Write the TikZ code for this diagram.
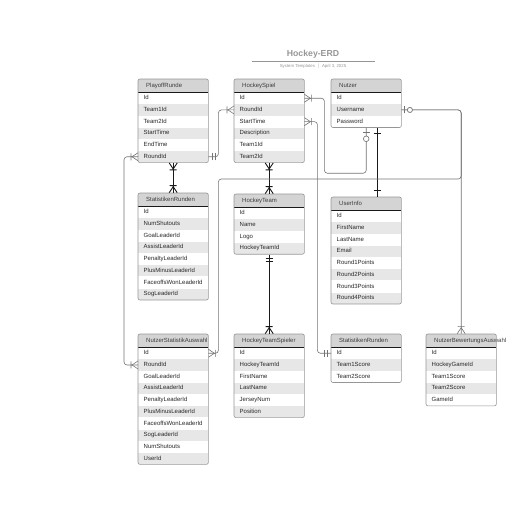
\documentclass[tikz,border=0pt]{standalone}
\usepackage{fontspec}
\setmainfont{Liberation Sans}
\usetikzlibrary{positioning,fit,decorations.markings}
\definecolor{erdink}{RGB}{40,40,40}
\definecolor{erdheadtext}{RGB}{60,60,60}
\definecolor{erdline}{RGB}{115,115,115}
\definecolor{erddark}{RGB}{25,25,25}
\definecolor{erdborder}{RGB}{150,150,150}
\definecolor{erdhead}{RGB}{212,212,212}
\definecolor{erdstripe}{RGB}{231,231,231}
\definecolor{erdtitle}{RGB}{150,150,150}
\newcommand{\erdfont}{\fontsize{6}{7}\selectfont}
\hyphenpenalty=10000
\exhyphenpenalty=10000

\begin{document}
\begin{tikzpicture}[
  x=1pt, y=-1pt,
  head/.style={rectangle, fill=erdhead, anchor=north west, minimum width=70pt, minimum height=13pt, text width=54pt, inner xsep=8pt, inner ysep=0pt, align=left, text height=4.4pt, text depth=1.3pt, text=erdheadtext, font=\erdfont,
    path picture={\draw[erddark, line width=1.2pt] (path picture bounding box.south west) -- (path picture bounding box.south east);}},
  rowa/.style={rectangle, fill=white, minimum width=70pt, minimum height=11.3pt, text width=59pt, inner xsep=5.5pt, inner ysep=0pt, align=left, text height=4.4pt, text depth=1.3pt, text=erdink, font=\erdfont},
  rowb/.style={rowa, fill=erdstripe},
  entity/.style={rectangle, draw=erdborder, line width=0.6pt, rounded corners=2pt, inner sep=0pt},
  rel/.style={draw=erdline, line width=0.6pt, rounded corners=3pt},
  strongrel/.style={draw=erddark, line width=0.9pt},
  many start/.style={postaction={decorate, decoration={markings, mark=at position 0.01pt with {\draw[sharp corners] (0,-4pt) -- (6pt,0) -- (0,4pt) (7pt,-3.5pt) -- (7pt,3.5pt);}}}},
  many end/.style={postaction={decorate, decoration={markings, mark=at position -0.01pt with {\draw[sharp corners] (0,-4pt) -- (-6pt,0) -- (0,4pt) (-7pt,-3.5pt) -- (-7pt,3.5pt);}}}},
  only start/.style={postaction={decorate, decoration={markings, mark=at position 0.01pt with {\draw[sharp corners] (3.5pt,-3.5pt) -- (3.5pt,3.5pt) (6.5pt,-3.5pt) -- (6.5pt,3.5pt);}}}},
  only end/.style={postaction={decorate, decoration={markings, mark=at position -0.01pt with {\draw[sharp corners] (-3.5pt,-3.5pt) -- (-3.5pt,3.5pt) (-6.5pt,-3.5pt) -- (-6.5pt,3.5pt);}}}},
  maybe start/.style={postaction={decorate, decoration={markings, mark=at position 0.01pt with {\draw[sharp corners] (3pt,-3.5pt) -- (3pt,3.5pt); \draw[fill=white] (8.5pt,0) circle (2.5pt);}}}},
  maybe end/.style={postaction={decorate, decoration={markings, mark=at position -0.01pt with {\draw[sharp corners] (-4pt,-3.5pt) -- (-4pt,3.5pt); \draw[fill=white] (-11pt,0) circle (2.8pt);}}}},
  one start/.style={postaction={decorate, decoration={markings, mark=at position 0.01pt with {\draw[sharp corners] (6pt,-3.5pt) -- (6pt,3.5pt);}}}},
  one end/.style={postaction={decorate, decoration={markings, mark=at position -0.01pt with {\draw[sharp corners] (-6pt,-3.5pt) -- (-6pt,3.5pt);}}}}
]
\useasboundingbox (0,0) rectangle (516,516);

% Title
\node[font=\bfseries\fontsize{8.7}{10}\selectfont, text=erdtitle] (title) at (313,54) {Hockey-ERD};
\coordinate (rule-l) at (252,61);
\coordinate (rule-r) at (375,61);
\draw[erdborder, line width=0.6pt] (rule-l) -- (rule-r);
\node[font=\fontsize{4.3}{5}\selectfont, text=erdtitle] (subtitle) at (313,66.5) {System Templates \ $|$ \ April 3, 2025};

% Top row
\node[head] (pr-h) at (138,79) {PlayoffRunde};
\node[rowa, below=0pt of pr-h] (pr-id) {Id};
\node[rowb, below=0pt of pr-id] (pr-team1id) {Team1Id};
\node[rowa, below=0pt of pr-team1id] (pr-team2id) {Team2Id};
\node[rowb, below=0pt of pr-team2id] (pr-starttime) {StartTime};
\node[rowa, below=0pt of pr-starttime] (pr-endtime) {EndTime};
\node[rowb, below=0pt of pr-endtime] (pr-roundid) {RoundId};
\node[entity, fit=(pr-h)(pr-roundid)] (pr) {};

\node[head] (hs-h) at (234,79) {HockeySpiel};
\node[rowa, below=0pt of hs-h] (hs-id) {Id};
\node[rowb, below=0pt of hs-id] (hs-roundid) {RoundId};
\node[rowa, below=0pt of hs-roundid] (hs-starttime) {StartTime};
\node[rowb, below=0pt of hs-starttime] (hs-description) {Description};
\node[rowa, below=0pt of hs-description] (hs-team1id) {Team1Id};
\node[rowb, below=0pt of hs-team1id] (hs-team2id) {Team2Id};
\node[entity, fit=(hs-h)(hs-team2id)] (hs) {};

\node[head] (nu-h) at (331,79) {Nutzer};
\node[rowa, below=0pt of nu-h] (nu-id) {Id};
\node[rowb, below=0pt of nu-id] (nu-username) {Username};
\node[rowa, below=0pt of nu-username] (nu-password) {Password};
\node[entity, fit=(nu-h)(nu-password)] (nu) {};

% Middle row
\node[head] (sr1-h) at (138,193) {StatistikenRunden};
\node[rowa, below=0pt of sr1-h] (sr1-id) {Id};
\node[rowb, below=0pt of sr1-id] (sr1-numshutouts) {NumShutouts};
\node[rowa, below=0pt of sr1-numshutouts] (sr1-goal) {GoalLeaderId};
\node[rowb, below=0pt of sr1-goal] (sr1-assist) {AssistLeaderId};
\node[rowa, below=0pt of sr1-assist] (sr1-penalty) {PenaltyLeaderId};
\node[rowb, below=0pt of sr1-penalty] (sr1-plusminus) {PlusMinusLeaderId};
\node[rowa, below=0pt of sr1-plusminus] (sr1-faceoffs) {FaceoffsWonLeaderId};
\node[rowb, below=0pt of sr1-faceoffs] (sr1-sog) {SogLeaderId};
\node[entity, fit=(sr1-h)(sr1-sog)] (sr1) {};

\node[head] (ht-h) at (234,194) {HockeyTeam};
\node[rowa, below=0pt of ht-h] (ht-id) {Id};
\node[rowb, below=0pt of ht-id] (ht-name) {Name};
\node[rowa, below=0pt of ht-name] (ht-logo) {Logo};
\node[rowb, below=0pt of ht-logo] (ht-teamid) {HockeyTeamId};
\node[entity, fit=(ht-h)(ht-teamid)] (ht) {};

\node[head] (ui-h) at (331,197) {UserInfo};
\node[rowa, below=0pt of ui-h] (ui-id) {Id};
\node[rowb, below=0pt of ui-id] (ui-firstname) {FirstName};
\node[rowa, below=0pt of ui-firstname] (ui-lastname) {LastName};
\node[rowb, below=0pt of ui-lastname] (ui-email) {Email};
\node[rowa, below=0pt of ui-email] (ui-r1) {Round1Points};
\node[rowb, below=0pt of ui-r1] (ui-r2) {Round2Points};
\node[rowa, below=0pt of ui-r2] (ui-r3) {Round3Points};
\node[rowb, below=0pt of ui-r3] (ui-r4) {Round4Points};
\node[entity, fit=(ui-h)(ui-r4)] (ui) {};

% Bottom row
\node[head] (nsa-h) at (138,334) {NutzerStatistikAuswahl};
\node[rowa, below=0pt of nsa-h] (nsa-id) {Id};
\node[rowb, below=0pt of nsa-id] (nsa-roundid) {RoundId};
\node[rowa, below=0pt of nsa-roundid] (nsa-goal) {GoalLeaderId};
\node[rowb, below=0pt of nsa-goal] (nsa-assist) {AssistLeaderId};
\node[rowa, below=0pt of nsa-assist] (nsa-penalty) {PenaltyLeaderId};
\node[rowb, below=0pt of nsa-penalty] (nsa-plusminus) {PlusMinusLeaderId};
\node[rowa, below=0pt of nsa-plusminus] (nsa-faceoffs) {FaceoffsWonLeaderId};
\node[rowb, below=0pt of nsa-faceoffs] (nsa-sog) {SogLeaderId};
\node[rowa, below=0pt of nsa-sog] (nsa-numshutouts) {NumShutouts};
\node[rowb, below=0pt of nsa-numshutouts] (nsa-userid) {UserId};
\node[entity, fit=(nsa-h)(nsa-userid)] (nsa) {};

\node[head] (hts-h) at (234,334) {HockeyTeamSpieler};
\node[rowa, below=0pt of hts-h] (hts-id) {Id};
\node[rowb, below=0pt of hts-id] (hts-teamid) {HockeyTeamId};
\node[rowa, below=0pt of hts-teamid] (hts-firstname) {FirstName};
\node[rowb, below=0pt of hts-firstname] (hts-lastname) {LastName};
\node[rowa, below=0pt of hts-lastname] (hts-jersey) {JerseyNum};
\node[rowb, below=0pt of hts-jersey] (hts-position) {Position};
\node[entity, fit=(hts-h)(hts-position)] (hts) {};

\node[head] (sr2-h) at (331,334) {StatistikenRunden};
\node[rowa, below=0pt of sr2-h] (sr2-id) {Id};
\node[rowb, below=0pt of sr2-id] (sr2-team1score) {Team1Score};
\node[rowa, below=0pt of sr2-team1score] (sr2-team2score) {Team2Score};
\node[entity, fit=(sr2-h)(sr2-team2score)] (sr2) {};

\node[head] (nba-h) at (426,334) {NutzerBewertungsAuswahl};
\node[rowa, below=0pt of nba-h] (nba-id) {Id};
\node[rowb, below=0pt of nba-id] (nba-gameid1) {HockeyGameId};
\node[rowa, below=0pt of nba-gameid1] (nba-team1score) {Team1Score};
\node[rowb, below=0pt of nba-team1score] (nba-team2score) {Team2Score};
\node[rowa, below=0pt of nba-team2score] (nba-gameid) {GameId};
\node[entity, fit=(nba-h)(nba-gameid)] (nba) {};

% Relations
\draw[strongrel, many start, many end] (pr.south) -- (sr1.north);
\draw[strongrel, many start, many end] (hs.south) -- (ht.north);
\draw[strongrel, only start, many end] (ht.south) -- (hts.north);
\draw[strongrel, one start, one end] ([xshift=11pt]nu.south) -- ([xshift=11pt]ui.north);

\draw[rel, only start, many end] (pr-roundid.east) -- ++(10,0) |- (hs-roundid.west);
\draw[rel, many start, many end] (pr-roundid.west) -- ++(-14,0) |- (nsa-roundid.west);
\draw[rel, many start, maybe end] (hs-id.east) -- ++(20,0) -- ++(0,75) -| (nu.south);
\draw[rel, many start, only end] (hs-starttime.east) -- ++(13,0) |- (sr2-id.west);
\draw[rel, maybe start, many end] (nu-username.east) -| (nba.north);
\draw[rel, maybe start, many end] (nu-username.east) -- (nu-username.east -| nba.north) -- ++(0,69) -| ([xshift=10pt]nsa-id.east) -- (nsa-id.east);

\end{tikzpicture}
\end{document}
